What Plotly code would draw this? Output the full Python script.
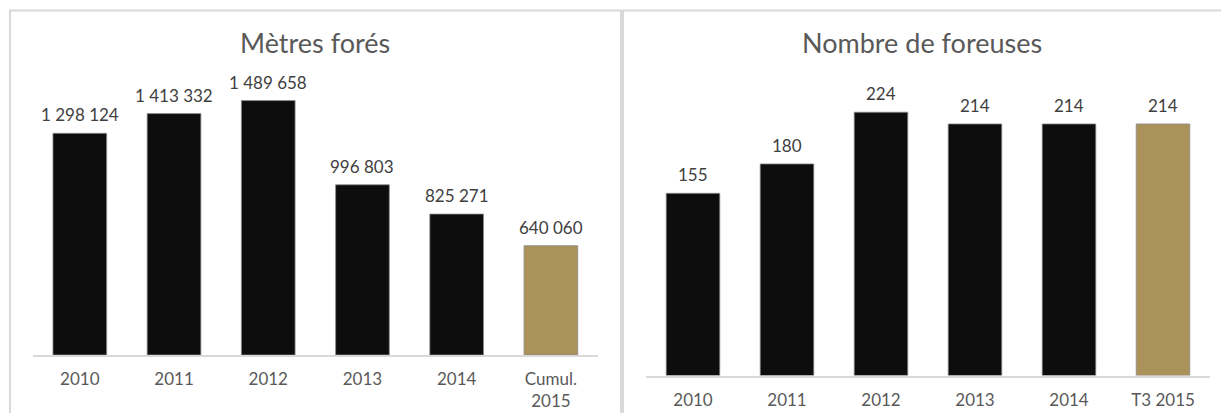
import plotly.graph_objects as go

W, H = 1221, 413

# Data
cats_left = ["2010", "2011", "2012", "2013", "2014", "Cumul.<br>2015"]
metres = [1298124, 1413332, 1489658, 996803, 825271, 640060]
cats_right = ["2010", "2011", "2012", "2013", "2014", "T3 2015"]
foreuses = [155, 180, 224, 214, 214, 214]

BLACK = "#0d0d0d"
GOLD = "#aa925a"
colors_left = [BLACK] * 5 + [GOLD]
colors_right = [BLACK] * 5 + [GOLD]

FONT = "Lato"


def fmt(v):
    return f"{v:,}".replace(",", " ")


def fx(x):
    return x / W


def fy(y):
    return 1 - y / H


xl = list(range(len(cats_left)))
xr = list(range(len(cats_right)))

fig = go.Figure()
fig.add_trace(go.Bar(x=xl, y=metres, width=0.57,
                     marker=dict(color=colors_left, line=dict(color="#8c8c8c", width=0.8)),
                     xaxis="x", yaxis="y", hoverinfo="skip"))
fig.add_trace(go.Bar(x=xr, y=foreuses, width=0.57,
                     marker=dict(color=colors_right, line=dict(color="#8c8c8c", width=0.8)),
                     xaxis="x2", yaxis="y2", hoverinfo="skip"))

annotations = []
for i, v in zip(xl, metres):
    annotations.append(dict(x=i, y=v, xref="x", yref="y", text=fmt(v), showarrow=False,
                            yanchor="bottom", yshift=6,
                            font=dict(family=FONT, size=17, color="#404040")))
for i, v in zip(xr, foreuses):
    annotations.append(dict(x=i, y=v, xref="x2", yref="y2", text=str(v), showarrow=False,
                            yanchor="bottom", yshift=6,
                            font=dict(family=FONT, size=17, color="#404040")))

annotations.append(dict(x=fx(315), y=fy(43), xref="paper", yref="paper", text="Mètres forés",
                        showarrow=False, xanchor="center", yanchor="middle",
                        font=dict(family=FONT, size=27, color="#595959")))
annotations.append(dict(x=fx(922), y=fy(43), xref="paper", yref="paper", text="Nombre de foreuses",
                        showarrow=False, xanchor="center", yanchor="middle",
                        font=dict(family=FONT, size=27, color="#595959")))

border = "#d9d9d9"
shapes = [
    dict(type="line", xref="paper", yref="paper", x0=fx(9), x1=1, y0=fy(10.5), y1=fy(10.5),
         line=dict(color=border, width=2)),
    dict(type="line", xref="paper", yref="paper", x0=fx(10), x1=fx(10), y0=fy(10), y1=0,
         line=dict(color=border, width=2)),
    dict(type="line", xref="paper", yref="paper", x0=fx(622), x1=fx(622), y0=fy(10), y1=0,
         line=dict(color=border, width=4)),
]

tickfont = dict(family=FONT, size=17, color="#595959")
fig.update_layout(
    width=W, height=H,
    margin=dict(l=0, r=0, t=0, b=0),
    paper_bgcolor="white", plot_bgcolor="white",
    showlegend=False,
    annotations=annotations,
    shapes=shapes,
    xaxis=dict(domain=[fx(32.7), fx(598)], anchor="y", range=[-0.5, 5.5], showline=True, linecolor=border,
               linewidth=1.5, ticks="", tickmode="array", tickvals=xl, ticktext=cats_left,
               ticklabelstandoff=8,
               tickfont=tickfont, showgrid=False, zeroline=False, fixedrange=True),
    yaxis=dict(domain=[fy(355), fy(355 - 1600000 * 221.7 / 1298124)], anchor="x", range=[0, 1600000],
               visible=False, showgrid=False, fixedrange=True),
    xaxis2=dict(domain=[fx(646), fx(1210)], anchor="y2", range=[-0.5, 5.5], showline=True, linecolor=border,
                linewidth=1.5, ticks="", tickmode="array", tickvals=xr, ticktext=cats_right,
                ticklabelstandoff=8,
                tickfont=tickfont, showgrid=False, zeroline=False, fixedrange=True),
    yaxis2=dict(domain=[fy(375.5), fy(375.5 - 250 * 182.2 / 155)], anchor="x2", range=[0, 250],
                visible=False, showgrid=False, fixedrange=True),
)

fig.write_html("out.html", config={"displayModeBar": False})
